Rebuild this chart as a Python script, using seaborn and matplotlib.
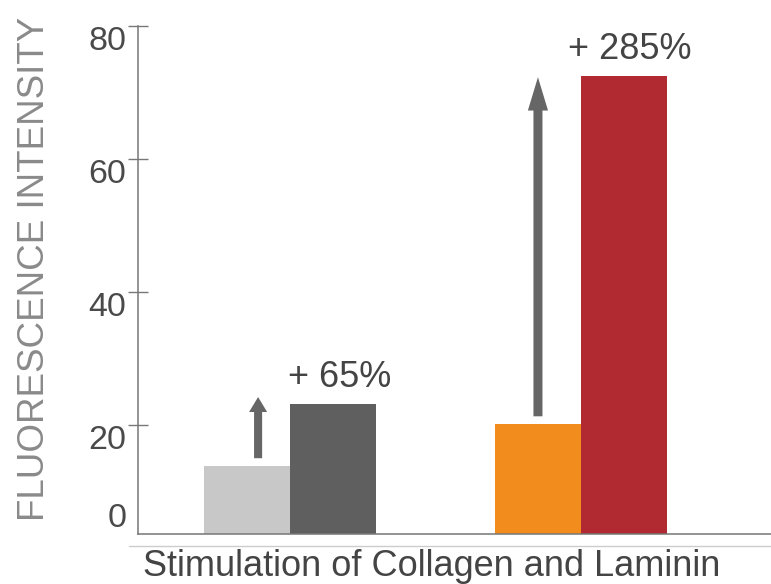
#!/usr/bin/env python3
"""Fluorescence intensity before/after stimulation, two bar pairs with arrows."""

import pandas as pd
import seaborn as sns
import matplotlib.pyplot as plt
from matplotlib.lines import Line2D

GROUPS = ["Collagen", "Laminin"]
STAGES = ["Before", "After"]
BEFORE = [13.8, 20.1]
AFTER = [23.2, 72.5]
GAINS = ["+ 65%", "+ 285%"]
ARROW_TOPS = [24.2, 72.3]
BAR_COLORS = {("Collagen", "Before"): "#c8c8c8", ("Collagen", "After"): "#5f5f5f",
              ("Laminin", "Before"): "#f28c1c", ("Laminin", "After"): "#b22a31"}
Y_TICKS = [20, 40, 60, 80]
Y_BOTTOM = 3.6

df = pd.DataFrame({
    "group": GROUPS * 2,
    "stage": [STAGES[0]] * 2 + [STAGES[1]] * 2,
    "value": BEFORE + AFTER,
})

sns.set_theme(style="white")
plt.rcParams["font.family"] = ["Liberation Sans", "DejaVu Sans"]

fig = plt.figure(figsize=(7.71, 5.84), dpi=100)
ax = fig.add_axes([138 / 771, 50 / 584, 633 / 771, 508 / 584])

sns.barplot(data=df, x="group", y="value", hue="stage", hue_order=STAGES,
            order=GROUPS, width=0.591, gap=0, legend=False, errorbar=None,
            saturation=1, ax=ax)

# colour each bar on its own (patches come hue level by hue level)
bars = {}
for patch, (stage, group) in zip(ax.patches,
                                 [(s, g) for s in STAGES for g in GROUPS]):
    patch.set_facecolor(BAR_COLORS[(group, stage)])
    patch.set_edgecolor("none")
    bars[(group, stage)] = patch

ax.set_xlim(-0.522, 1.653)
ax.set_ylim(Y_BOTTOM, 80)
ax.set_xticks([])
ax.set_xlabel("")
ax.set_ylabel("")

ax.set_yticks([Y_BOTTOM] + Y_TICKS, labels=["0"] + [str(t) for t in Y_TICKS])
ax.tick_params(axis="y", left=True, direction="inout", length=14.4, width=1,
               color="#777777", pad=1, labelsize=24.5, labelcolor="#4a4a4a")
for lab in ax.get_yticklabels():
    lab.set_verticalalignment("top")
ax.get_yticklabels()[0].set_verticalalignment("bottom")
ax.yaxis.get_major_ticks()[0].tick1line.set_visible(False)

sns.despine(ax=ax, top=True, right=True)
for side in ("left", "bottom"):
    ax.spines[side].set_color("#777777")
    ax.spines[side].set_linewidth(1.1)

# arrows and percentage gains
for i, group in enumerate(GROUPS):
    before = bars[(group, "Before")]
    after = bars[(group, "After")]
    if i == 0:
        ax_x = before.get_x() + before.get_width() * 0.63
        style = "simple,head_length=1.08,head_width=1.3,tail_width=0.58"
    else:
        ax_x = before.get_x() + before.get_width() * 0.5
        style = "simple,head_length=2.4,head_width=1.45,tail_width=0.65"
    ax.annotate("", xy=(ax_x, ARROW_TOPS[i]), xytext=(ax_x, BEFORE[i] + 1.2),
                arrowprops=dict(arrowstyle=style, color="#666666", lw=0,
                                shrinkA=0, shrinkB=0, mutation_scale=10))
    ax.annotate(GAINS[i], xy=(after.get_x() + after.get_width() / 2, AFTER[i]),
                xytext=(4.5, 19), textcoords="offset points", ha="center",
                va="center", fontsize=26, color="#444444")

fig.add_artist(Line2D([129 / 771, 1], [1 - 546 / 584] * 2,
                      color="#cccccc", lw=1))
fig.text(143 / 771, 1 - 576 / 584, "Stimulation of Collagen and Laminin",
         ha="left", va="baseline", fontsize=26, color="#444444")
fig.text(35 / 771, 1 - 269 / 584, "FLUORESCENCE INTENSITY", rotation=90,
         ha="center", va="center", fontsize=26.5, color="#8a8a8a")

fig.savefig("out.png", dpi=100)
